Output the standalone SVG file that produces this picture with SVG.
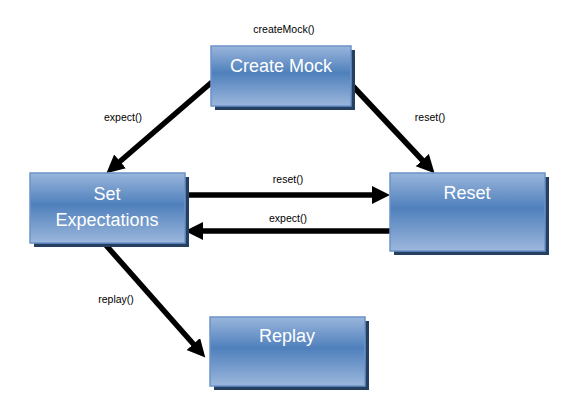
<svg xmlns="http://www.w3.org/2000/svg" width="580" height="417" viewBox="0 0 580 417">
<defs>
<linearGradient id="g" x1="0" y1="0" x2="0" y2="1">
<stop offset="0" stop-color="#9ab6dc"/>
<stop offset="0.45" stop-color="#4f80bc"/>
<stop offset="1" stop-color="#9cb7dc"/>
</linearGradient>
<marker id="ah" markerUnits="userSpaceOnUse" markerWidth="20" markerHeight="20" refX="4" refY="9" orient="auto" viewBox="0 0 20 20">
<path d="M0,0 L18,9 L0,18 z" fill="#000"/>
</marker>
<style>
.sh{fill:#243f60}
.bx{fill:url(#g);stroke:#6b93c8;stroke-width:1.5}
.nt{font-family:"Liberation Sans",Arial,sans-serif;font-size:18px;fill:#fff;text-anchor:middle}
.lb{font-family:"Liberation Sans",Arial,sans-serif;font-size:10.5px;fill:#000;text-anchor:middle}
.c{stroke:#000;stroke-width:5.5;fill:none;marker-end:url(#ah)}
</style>
</defs>
<rect width="580" height="417" fill="#fff"/>
<g id="connectors">
<line class="c" x1="212" y1="82" x2="117" y2="164"/>
<line class="c" x1="349" y1="82" x2="425" y2="163"/>
<line class="c" x1="185" y1="195" x2="376" y2="195"/>
<line class="c" x1="390" y1="231" x2="199" y2="231"/>
<line class="c" x1="104" y1="243" x2="196" y2="347"/>
<text class="lb" x="284" y="33">createMock()</text>
<text class="lb" x="123" y="121">expect()</text>
<text class="lb" x="430" y="121">reset()</text>
<text class="lb" x="288" y="183">reset()</text>
<text class="lb" x="288" y="222">expect()</text>
<text class="lb" x="116" y="303">replay()</text>
</g>
<g id="create-mock">
<rect class="sh" x="215" y="50" width="140" height="60"/>
<rect class="bx" x="211" y="46" width="140" height="60"/>
<text class="nt" x="281" y="72">Create Mock</text>
</g>
<g id="set-expectations">
<rect class="sh" x="34" y="177" width="155" height="70"/>
<rect class="bx" x="30" y="173" width="155" height="70"/>
<text class="nt" x="107" y="200">Set</text>
<text class="nt" x="107" y="226">Expectations</text>
</g>
<g id="reset">
<rect class="sh" x="394" y="177" width="155" height="78"/>
<rect class="bx" x="390" y="173" width="155" height="78"/>
<text class="nt" x="467" y="199">Reset</text>
</g>
<g id="replay">
<rect class="sh" x="214" y="321" width="155" height="69"/>
<rect class="bx" x="210" y="317" width="155" height="69"/>
<text class="nt" x="287" y="342">Replay</text>
</g>
</svg>
